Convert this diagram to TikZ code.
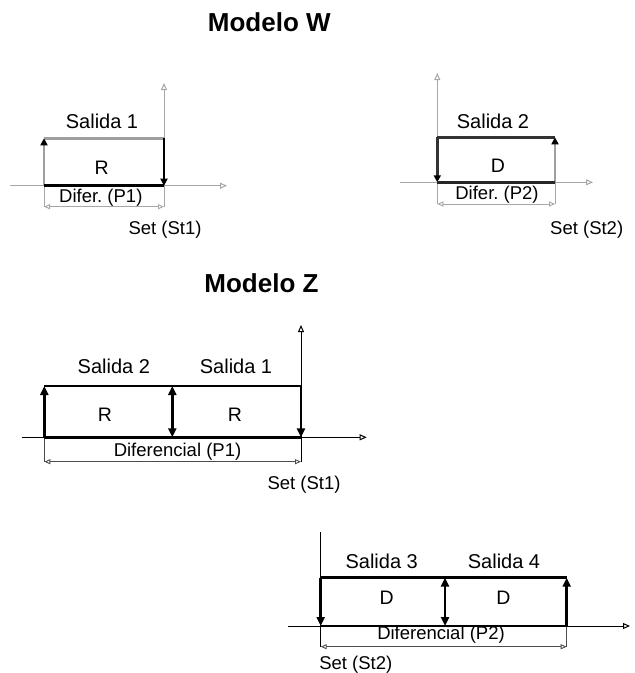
\documentclass[tikz,border=0pt]{standalone}
\usepackage{fontspec}
\setmainfont{Liberation Sans}
\usetikzlibrary{arrows.meta}

\begin{document}
\begin{tikzpicture}[
  x=1pt, y=-1pt,
  lbl/.style={font=\fontsize{18.5}{20}\selectfont, inner sep=0pt},
  sal/.style={font=\fontsize{20}{22}\selectfont, inner sep=0pt},
  letra/.style={font=\fontsize{19.5}{21}\selectfont, inner sep=0pt},
  titulo/.style={font=\fontsize{26}{28}\selectfont\bfseries, inner sep=0pt},
  eje/.style={-{Triangle[open, length=7pt, width=6pt]}, line width=1pt},
  cota/.style={{Triangle[open, length=6pt, width=5pt]}-{Triangle[open, length=6pt, width=5pt]},
               line width=0.9pt, gray!60!black},
  borde/.style={line width=2.6pt},
  sube/.style={borde, -{Triangle[length=7pt, width=7pt, color=black]}},
  zsube/.style={borde, -{Triangle[length=9pt, width=8pt]}},
  doble/.style={borde, {Triangle[length=9pt, width=8pt]}-{Triangle[length=9pt, width=8pt]}}
]
  \useasboundingbox (0,0) rectangle (635,673);

  % titulos
  \node[titulo] (tw) at (269.3,22)  {Modelo W};
  \node[titulo] (tz) at (261.5,283) {Modelo Z};

  % modelo W, salida 1
  \coordinate (w1i) at (10,185.7);
  \coordinate (w1f) at (227,185.7);
  \coordinate (w1y) at (164,83);
  \coordinate (w1a) at (44,185.7);
  \coordinate (w1b) at (164,185.7);
  \coordinate (w1c) at (164,138.3);
  \coordinate (w1d) at (44,138.3);
  \coordinate (w1e) at (44,206.7);
  \coordinate (w1g) at (164,206.7);
  \draw[eje, gray!70] (w1i) -- (w1f);
  \draw[eje, gray!70] (w1g) -- (w1y);
  \draw[gray!70, line width=0.9pt] (w1a) -- (w1e);
  \draw[cota, gray!70] (w1e) -- (w1g);
  \draw[borde, gray!75] (w1d) -- (w1c);
  \draw[sube, gray!75] (w1a) -- (w1d);
  \draw[sube] (w1c) -- (w1b);
  \draw[borde] (w1a) -- (w1b);
  \node[sal]   (sal1) at (102,121.7)   {Salida 1};
  \node[letra] (r1)   at (101.7,167.3) {R};
  \node[lbl]   (dif1) at (100.8,197.7) {Difer.\ (P1)};
  \node[lbl]   (set1) at (165,230)     {Set (St1)};

  % modelo W, salida 2
  \coordinate (w2i) at (400,182.3);
  \coordinate (w2f) at (593,182.3);
  \coordinate (w2y) at (437.3,73);
  \coordinate (w2a) at (437.3,182.3);
  \coordinate (w2b) at (555,182.3);
  \coordinate (w2c) at (555,137.3);
  \coordinate (w2d) at (437.3,137.3);
  \coordinate (w2e) at (437.3,204);
  \coordinate (w2g) at (555,204);
  \draw[eje, gray!70] (w2i) -- (w2f);
  \draw[eje, gray!70] (w2e) -- (w2y);
  \draw[gray!70, line width=0.9pt] (w2b) -- (w2g);
  \draw[cota, gray!70] (w2e) -- (w2g);
  \draw[borde, black!80] (w2d) -- (w2c);
  \draw[sube, black!80] (w2d) -- (w2a);
  \draw[sube, gray!75] (w2b) -- (w2c);
  \draw[borde, black!85] (w2a) -- (w2b);
  \node[sal]   (sal2) at (493,121.7) {Salida 2};
  \node[letra] (d1)   at (498,166)   {D};
  \node[lbl]   (dif2) at (497,195)   {Difer.\ (P2)};
  \node[lbl]   (set2) at (586.7,230) {Set (St2)};

  % modelo Z, salidas 1 y 2
  \coordinate (z1i) at (21.7,437.3);
  \coordinate (z1f) at (366.7,437.3);
  \coordinate (z1y) at (301,325);
  \coordinate (z1a) at (44.3,437.3);
  \coordinate (z1m) at (172.3,437.3);
  \coordinate (z1b) at (301,437.3);
  \coordinate (z1c) at (301,386);
  \coordinate (z1n) at (172.3,386);
  \coordinate (z1d) at (44.3,386);
  \coordinate (z1e) at (44.3,461.7);
  \coordinate (z1g) at (301,461.7);
  \draw[eje] (z1i) -- (z1f);
  \draw[eje] (z1g) -- (z1y);
  \draw[line width=0.9pt, gray!60!black] (z1a) -- (z1e);
  \draw[cota] (z1e) -- (z1g);
  \draw[borde] (z1d) -- (z1c);
  \draw[borde] (z1a) -- (z1b);
  \draw[zsube] (z1a) -- (z1d);
  \draw[doble] (z1m) -- (z1n);
  \draw[zsube] (z1c) -- (z1b);
  \node[sal]   (zs2)   at (113.8,366.7) {Salida 2};
  \node[sal]   (zs1)   at (236,366.7)   {Salida 1};
  \node[letra] (zr1)   at (105,415)     {R};
  \node[letra] (zr2)   at (235,415)     {R};
  \node[lbl]   (zdif1) at (177.5,451.7) {Diferencial (P1)};
  \node[lbl]   (zset1) at (304,485)     {Set (St1)};

  % modelo Z, salidas 3 y 4
  \coordinate (z2i) at (288.3,626);
  \coordinate (z2f) at (630,626);
  \coordinate (z2y) at (320.7,531.7);
  \coordinate (z2a) at (320.7,626);
  \coordinate (z2m) at (445,626);
  \coordinate (z2b) at (566.7,626);
  \coordinate (z2c) at (566.7,577.7);
  \coordinate (z2n) at (445,577.7);
  \coordinate (z2d) at (320.7,577.7);
  \coordinate (z2e) at (320.7,646.7);
  \coordinate (z2g) at (566.7,646.7);
  \draw[eje] (z2i) -- (z2f);
  \draw[line width=1pt] (z2y) -- (z2e);
  \draw[line width=0.9pt, gray!60!black] (z2b) -- (z2g);
  \draw[cota] (z2e) -- (z2g);
  \draw[borde] (z2d) -- (z2c);
  \draw[borde] (z2a) -- (z2b);
  \draw[zsube] (z2d) -- (z2a);
  \draw[doble] (z2m) -- (z2n);
  \draw[zsube] (z2b) -- (z2c);
  \node[sal]   (zs3)   at (381.7,561.7) {Salida 3};
  \node[sal]   (zs4)   at (504,561.7)   {Salida 4};
  \node[letra] (zd1)   at (386.7,597.7) {D};
  \node[letra] (zd2)   at (503.3,597.7) {D};
  \node[lbl]   (zdif2) at (441,635)     {Diferencial (P2)};
  \node[lbl]   (zset2) at (355.8,664.3) {Set (St2)};
\end{tikzpicture}
\end{document}
